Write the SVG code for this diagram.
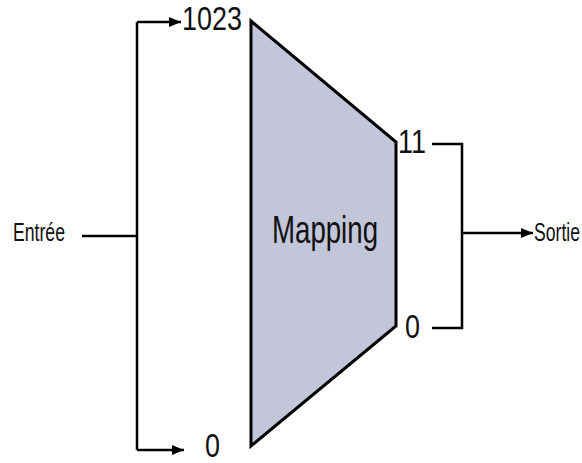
<svg xmlns="http://www.w3.org/2000/svg" width="582" height="463" viewBox="0 0 582 463">
<style>
.ln{fill:none;stroke:#000;stroke-width:2.5}
.t{font-family:"Liberation Sans",Arial,sans-serif;fill:#111}
</style>
<defs>
<marker id="ah" markerWidth="13" markerHeight="12" refX="12" refY="6" orient="auto" markerUnits="userSpaceOnUse">
<path d="M0,1 L12,6 L0,11 Z" fill="#000"/>
</marker>
</defs>
<rect width="582" height="463" fill="#fff"/>
<g id="mapping">
<polygon points="251,21 396,142 396,326 251,446" fill="#c3c6d9" stroke="#000" stroke-width="3" stroke-linejoin="miter"/>
<text class="t" x="272" y="243" font-size="39" textLength="106" lengthAdjust="spacingAndGlyphs">Mapping</text>
</g>
<g id="entree">
<text class="t" x="13" y="241" font-size="25" textLength="52" lengthAdjust="spacingAndGlyphs">Entrée</text>
</g>
<g id="sortie">
<text class="t" x="534" y="241" font-size="25" textLength="46" lengthAdjust="spacingAndGlyphs">Sortie</text>
</g>
<g id="in1023">
<text class="t" x="182" y="30" font-size="34" textLength="60" lengthAdjust="spacingAndGlyphs">1023</text>
</g>
<g id="in0">
<text class="t" x="205" y="457" font-size="34" textLength="15" lengthAdjust="spacingAndGlyphs">0</text>
</g>
<g id="out11">
<text class="t" x="398" y="153" font-size="34" textLength="28" lengthAdjust="spacingAndGlyphs">11</text>
</g>
<g id="out0">
<text class="t" x="405" y="338" font-size="34" textLength="15" lengthAdjust="spacingAndGlyphs">0</text>
</g>
<g id="connectors">
<path class="ln" d="M82,236 H137"/>
<path class="ln" d="M137,22 V450"/>
<path class="ln" d="M137,22 H181" marker-end="url(#ah)"/>
<path class="ln" d="M137,450 H184" marker-end="url(#ah)"/>
<path class="ln" d="M432,144 H462 V328 H432"/>
<path class="ln" d="M462,233 H533" marker-end="url(#ah)"/>
</g>
</svg>
